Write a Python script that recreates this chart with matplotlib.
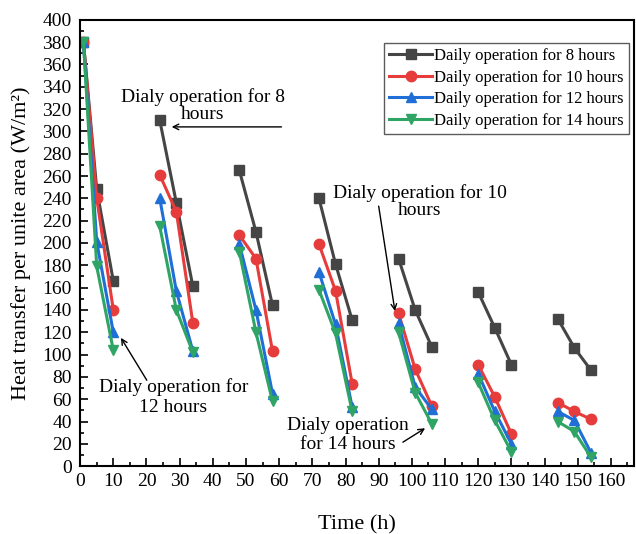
import matplotlib
matplotlib.use('Agg')
import matplotlib.pyplot as plt
from matplotlib.ticker import MultipleLocator

plt.rcParams['font.family'] = ['Liberation Serif', 'DejaVu Serif']

# time points for each daily cycle (h)
cycles = [
    [1, 5, 10],
    [24, 29, 34],
    [48, 53, 58],
    [72, 77, 82],
    [96, 101, 106],
    [120, 125, 130],
    [144, 149, 154],
]

h8 = [[380, 248, 166], [310, 236, 161], [265, 210, 144], [240, 181, 131],
      [186, 140, 107], [156, 124, 91], [132, 106, 86]]
h10 = [[380, 240, 140], [261, 228, 128], [207, 186, 103], [199, 157, 74],
       [137, 87, 54], [91, 62, 29], [57, 49, 42]]
h12 = [[380, 201, 120], [240, 157, 103], [199, 140, 65], [174, 127, 53],
       [128, 71, 51], [83, 49, 20], [49, 41, 12]]
h14 = [[380, 179, 104], [215, 140, 102], [192, 120, 58], [158, 119, 49],
       [120, 66, 38], [75, 41, 13], [40, 31, 8]]

series = [
    (h8, '#454545', 's', 'Daily operation for 8 hours'),
    (h10, '#e63c3c', 'o', 'Daily operation for 10 hours'),
    (h12, '#1f6fd6', '^', 'Daily operation for 12 hours'),
    (h14, '#2fa565', 'v', 'Daily operation for 14 hours'),
]

fig = plt.figure(figsize=(6.36, 5.34), dpi=100)
ax = fig.add_axes([0.126, 0.127, 0.871, 0.836])

for vals, col, mk, lab in series:
    for i, (t, v) in enumerate(zip(cycles, vals)):
        ax.plot(t, v, color=col, marker=mk, markersize=7.5, linewidth=2.2,
                label=lab if i == 0 else None)

ax.set_xlim(0, 167)
ax.set_ylim(0, 400)
ax.xaxis.set_major_locator(MultipleLocator(10))
ax.xaxis.set_minor_locator(MultipleLocator(5))
ax.yaxis.set_major_locator(MultipleLocator(20))
ax.yaxis.set_minor_locator(MultipleLocator(10))
ax.tick_params(which='both', direction='in', labelsize=14, top=False, right=False)
ax.tick_params(which='major', length=6, width=1.2)
ax.tick_params(which='minor', length=3, width=1.2)
ax.tick_params(axis='y', pad=6)
ax.tick_params(axis='x', pad=5)
for s in ax.spines.values():
    s.set_linewidth(1.5)

ax.set_xlabel('Time (h)', fontsize=16, labelpad=18)
ax.set_ylabel('Heat transfer per unite area (W/m²)', fontsize=16, labelpad=8)

leg = ax.legend(loc='upper right', bbox_to_anchor=(0.996, 0.955), fontsize=12,
                frameon=True, fancybox=False, edgecolor='#333333',
                handlelength=2.6, handletextpad=0.1, borderpad=0.3,
                labelspacing=0.33, borderaxespad=0.2)
leg.get_frame().set_linewidth(1.0)

fs = 14
arr = dict(arrowstyle='->', color='black', lw=1.0, shrinkA=0, shrinkB=0)

# 8 hours
ax.text(37, 323, 'Dialy operation for 8\nhours', fontsize=fs, ha='center',
        va='center', linespacing=1.0)
ax.annotate('', xy=(27.6, 304), xytext=(60.7, 304), arrowprops=arr)

# 10 hours
ax.text(102.4, 237, 'Dialy operation for 10\nhours', fontsize=fs, ha='center',
        va='center', linespacing=1.0)
ax.annotate('', xy=(94.9, 139), xytext=(90, 233), arrowprops=arr)

# 12 hours
ax.text(28.1, 62, 'Dialy operation for\n12 hours', fontsize=fs, ha='center',
        va='center', linespacing=1.25)
ax.annotate('', xy=(12.3, 115), xytext=(20.1, 77), arrowprops=arr)

# 14 hours
ax.text(80.7, 28, 'Dialy operation\nfor 14 hours', fontsize=fs, ha='center',
        va='center', linespacing=1.15)
ax.annotate('', xy=(104, 34), xytext=(97.3, 21.5), arrowprops=arr)

fig.savefig('out.png', dpi=100)
